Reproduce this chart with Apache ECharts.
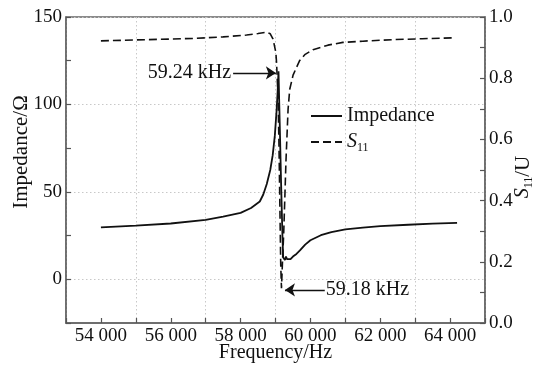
<!DOCTYPE html>
<html>
<head>
<meta charset="utf-8">
<script src="https://cdn.jsdelivr.net/npm/echarts@6/dist/echarts.min.js"></script>
<style>html,body{margin:0;padding:0;background:#fff}#c{width:541px;height:367px}</style>
</head>
<body>
<div id="c"></div>
<script>
// ---- data ----
const impFreq = [54000, 55000, 56000, 57000, 57500, 58000, 58300, 58550, 58650, 58750,
  58850, 58920, 58980, 59030, 59060, 59086, 59120, 59160, 59200, 59220,
  59250, 59270, 59300, 59330, 59380, 59430, 59500, 59600, 59700, 59850,
  60000, 60300, 60600, 61000, 61500, 62000, 62800, 63500, 64200];
const impVal = [29.7, 30.7, 31.9, 34.0, 35.8, 38.0, 40.8, 44.5, 48.5, 54.5,
  62.5, 71, 82, 96, 107, 119, 90, 55, 24, 12.5,
  13.5, 11, 13, 11.5, 10.5, 11.5, 13, 14.5, 16.5, 19.8,
  22.3, 25.2, 27, 28.5, 29.6, 30.4, 31.2, 31.8, 32.3];
const s11Freq = [54000, 55000, 56000, 56650, 57500, 58170, 58500, 58740, 58850, 58930,
  59010, 59030, 59075, 59100, 59123, 59150, 59171, 59200, 59237, 59270,
  59300, 59360, 59408, 59503, 59600, 59694, 59850, 60074, 60500, 60930,
  61500, 62360, 63200, 64100];
const s11Val = [0.922, 0.925, 0.928, 0.930, 0.935, 0.941, 0.946, 0.950, 0.945, 0.928,
  0.884, 0.851, 0.731, 0.58, 0.40, 0.19, 0.114, 0.20, 0.30, 0.42,
  0.53, 0.698, 0.764, 0.810, 0.835, 0.858, 0.878, 0.893, 0.908, 0.917,
  0.921, 0.926, 0.929, 0.932];
const seriesNames = ['Impedance', 'S11'];
const peakLabel = '59.24 kHz';
const dipLabel = '59.18 kHz';
const xTickLabels = ['54 000', '56 000', '58 000', '60 000', '62 000', '64 000'];
const yLeftTickLabels = ['0', '50', '100', '150'];
const yRightTickLabels = ['0.0', '0.2', '0.4', '0.6', '0.8', '1.0'];

// ---- build ----
const FONT = "'Liberation Serif','Times New Roman',serif";
const imp = impFreq.map((f, i) => [f, impVal[i]]);
const s11 = s11Freq.map((f, i) => [f, s11Val[i]]);
let pk = 0; impVal.forEach((v, i) => { if (v > impVal[pk]) pk = i; });
let mn = 0; s11Val.forEach((v, i) => { if (v < s11Val[mn]) mn = i; });

const chart = echarts.init(document.getElementById('c'), null, {renderer: 'canvas'});
const axisLine = {show: true, onZero: false, lineStyle: {color: '#666', width: 1.5}};
const tick = {show: true, inside: true, length: 5, lineStyle: {color: '#555', width: 1.2}};
const lbl = {fontFamily: FONT, fontSize: 19, color: '#111'};
const subRich = {
  i: {fontFamily: FONT, fontSize: 20, fontStyle: 'italic', color: '#111', lineHeight: 24},
  s: {fontFamily: FONT, fontSize: 12, color: '#111', verticalAlign: 'bottom', lineHeight: 12}
};
const option = {
  animation: false,
  backgroundColor: '#fff',
  grid: {left: 66, right: 56, top: 17, bottom: 44, show: true, borderColor: '#666', borderWidth: 1.5,
    backgroundColor: 'transparent', containLabel: false, outerBoundsMode: 'none'},
  legend: {
    orient: 'vertical', left: 305, top: 101, itemWidth: 31, itemHeight: 14, itemGap: 6,
    data: seriesNames,
    itemStyle: {opacity: 0},
    textStyle: {fontFamily: FONT, fontSize: 20, color: '#111', rich: subRich},
    formatter: n => n === 'S11' ? '{i|S}{s|11}' : n
  },
  xAxis: [{
    type: 'value', min: 53000, max: 65000, interval: 1000,
    name: 'Frequency/Hz', nameLocation: 'middle', nameGap: 20, nameMoveOverlap: false,
    nameTextStyle: {fontFamily: FONT, fontSize: 20, color: '#111'},
    axisLine: axisLine, axisTick: tick,
    axisLabel: Object.assign({margin: 4, formatter: v => {
      const k = xTickLabels.indexOf((v / 1000) + ' 000');
      return k >= 0 ? xTickLabels[k] : '';
    }}, lbl),
    splitLine: {show: true, lineStyle: {color: ['#c8c8c8', 'transparent'], type: [1.5, 2.5], width: 1}}
  }],
  yAxis: [{
    type: 'value', min: -25, max: 150, interval: 25, position: 'left',
    name: 'Impedance/Ω', nameLocation: 'middle', nameGap: 34, nameMoveOverlap: false,
    nameTextStyle: {fontFamily: FONT, fontSize: 21, color: '#111', padding: [0, 0, 0, 36]},
    axisLine: axisLine, axisTick: tick,
    axisLabel: Object.assign({margin: 4, formatter: v => yLeftTickLabels.indexOf(String(v)) >= 0 ? String(v) : ''}, lbl),
    splitLine: {show: true, lineStyle: {color: ['transparent', '#c8c8c8'], type: [1.5, 2.5], width: 1}}
  }, {
    type: 'value', min: 0, max: 1, interval: 0.1, position: 'right',
    name: '{i|S}{s|11}/U', nameLocation: 'middle', nameGap: 26, nameMoveOverlap: false,
    nameTextStyle: {fontFamily: FONT, fontSize: 21, color: '#111', padding: [0, 14, 0, 0], rich: subRich},
    axisLine: axisLine, axisTick: tick,
    axisLabel: Object.assign({margin: 4, formatter: v => {
      const t = v.toFixed(1); return yRightTickLabels.indexOf(t) >= 0 && Math.round(v * 10) % 2 === 0 ? t : '';
    }}, lbl),
    splitLine: {show: false}
  }],
  series: [{
    name: seriesNames[0], type: 'line', data: imp, yAxisIndex: 0, symbol: 'none', smooth: false,
    lineStyle: {color: '#111', width: 1.8, type: 'solid'}, itemStyle: {color: '#111'}, z: 3,
    markLine: {
      silent: true, animation: false, symbol: ['none', 'arrow'], symbolSize: 10,
      lineStyle: {color: '#111', width: 1.3, type: 'solid'},
      label: {show: true, position: 'start', distance: 2, formatter: peakLabel, fontFamily: FONT, fontSize: 20, color: '#111'},
      data: [[{coord: [impFreq[pk] - 1300, impVal[pk] - 1]}, {coord: [impFreq[pk] - 75, impVal[pk] - 1]}]]
    }
  }, {
    name: seriesNames[1], type: 'line', data: s11, yAxisIndex: 1, symbol: 'none', smooth: false,
    lineStyle: {color: '#111', width: 1.6, type: [8, 4]}, itemStyle: {color: '#111'}, z: 2,
    markLine: {
      silent: true, animation: false, symbol: ['none', 'arrow'], symbolSize: 10,
      lineStyle: {color: '#111', width: 1.3, type: 'solid'},
      label: {show: true, position: 'start', distance: 1, formatter: dipLabel, fontFamily: FONT, fontSize: 20, color: '#111'},
      data: [[{coord: [s11Freq[mn] + 1240, s11Val[mn] - 0.006]}, {coord: [s11Freq[mn] + 100, s11Val[mn] - 0.006]}]]
    }
  }]
};
chart.setOption(option);
</script>
</body>
</html>
